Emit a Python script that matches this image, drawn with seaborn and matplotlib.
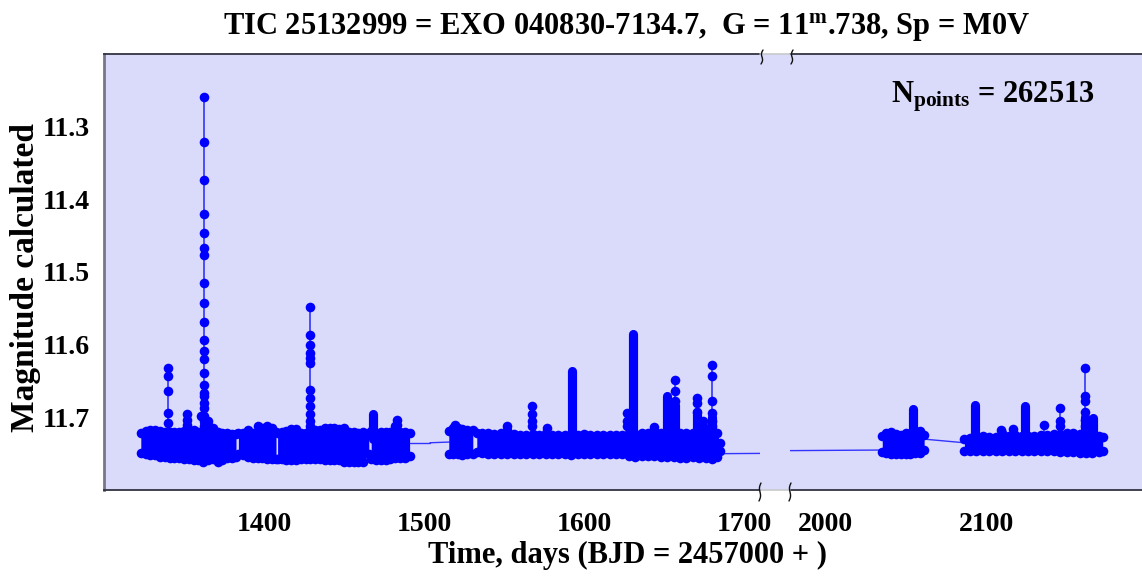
import numpy as np
import pandas as pd
import matplotlib
matplotlib.use("Agg")
import matplotlib.pyplot as plt
import seaborn as sns
from matplotlib.lines import Line2D
from matplotlib.patches import Rectangle

# ---------------- data ----------------
band_t = [1323, 1326, 1329, 1332, 1335, 1338, 1341, 1344, 1347, 1350, 1353, 1356, 1359, 1362, 1365,
          1368, 1371, 1374, 1377, 1380, 1382.5,
          1384, 1387, 1390, 1393, 1396, 1399, 1402, 1405, 1407.5,
          1408.5, 1411, 1414, 1417, 1420, 1423, 1426, 1429, 1432, 1435, 1438, 1441, 1444, 1447, 1450,
          1453, 1456, 1459, 1462, 1465.5,
          1467, 1470, 1473, 1476, 1479, 1482, 1485, 1488, 1491,
          1515.5, 1518, 1521, 1524, 1527, 1530.5,
          1533, 1536, 1540, 1544, 1548, 1552, 1556, 1560, 1564, 1568, 1572, 1576, 1580, 1584, 1588,
          1592, 1596, 1600, 1604, 1608, 1612, 1616, 1620, 1624, 1628, 1632, 1636, 1640, 1644, 1648,
          1652, 1656, 1660, 1664, 1668, 1672, 1676, 1680, 1683, 1685,
          2035.5, 2038, 2041, 2044, 2047, 2050, 2053, 2056, 2059, 2061.5,
          2086.5, 2090, 2094, 2098, 2102, 2106, 2110, 2114, 2118, 2122, 2126, 2130, 2134, 2138, 2142,
          2146, 2150, 2154, 2158, 2162, 2166, 2170, 2172.4]
band_hi = [11.722, 11.719, 11.718, 11.718, 11.719, 11.720, 11.720, 11.720, 11.720, 11.719, 11.718,
           11.718, 11.720, 11.720, 11.712, 11.715, 11.720, 11.721, 11.722, 11.723, 11.723,
           11.722, 11.721, 11.718, 11.721, 11.712, 11.715, 11.712, 11.715, 11.720,
           11.721, 11.720, 11.719, 11.716, 11.716, 11.722, 11.721, 11.717, 11.718, 11.718, 11.715,
           11.715, 11.715, 11.716, 11.715, 11.720, 11.720, 11.721, 11.720, 11.721,
           11.719, 11.721, 11.720, 11.720, 11.720, 11.712, 11.720, 11.720, 11.722,
           11.719, 11.715, 11.715, 11.716, 11.718, 11.718,
           11.721, 11.722, 11.722, 11.723, 11.722, 11.717, 11.723, 11.724, 11.724, 11.723, 11.724,
           11.721, 11.724, 11.725, 11.724, 11.724, 11.725, 11.723, 11.725, 11.725, 11.724, 11.725,
           11.725, 11.724, 11.721, 11.723, 11.721, 11.722, 11.717, 11.721, 11.721, 11.721, 11.722,
           11.721, 11.721, 11.721, 11.720, 11.719, 11.721, 11.735,
           11.726, 11.721, 11.720, 11.723, 11.725, 11.721, 11.721, 11.719, 11.719, 11.725,
           11.730, 11.728, 11.727, 11.726, 11.727, 11.727, 11.721, 11.726, 11.725, 11.726, 11.726,
           11.726, 11.725, 11.724, 11.723, 11.723, 11.721, 11.722, 11.723, 11.722, 11.723, 11.726, 11.727]
band_lo = [11.749, 11.750, 11.752, 11.752, 11.754, 11.755, 11.756, 11.756, 11.756, 11.758, 11.758,
           11.759, 11.759, 11.761, 11.759, 11.758, 11.761, 11.759, 11.756, 11.756, 11.755,
           11.751, 11.752, 11.754, 11.756, 11.756, 11.756, 11.757, 11.758, 11.758,
           11.757, 11.757, 11.759, 11.759, 11.759, 11.757, 11.757, 11.757, 11.757, 11.757, 11.759,
           11.759, 11.759, 11.759, 11.761, 11.761, 11.761, 11.761, 11.761, 11.751,
           11.758, 11.759, 11.759, 11.759, 11.758, 11.756, 11.756, 11.756, 11.753,
           11.750, 11.751, 11.751, 11.752, 11.751, 11.750,
           11.748, 11.749, 11.750, 11.750, 11.751, 11.751, 11.751, 11.750, 11.750, 11.751, 11.751,
           11.750, 11.750, 11.751, 11.751, 11.752, 11.751, 11.751, 11.751, 11.750, 11.750, 11.751,
           11.751, 11.751, 11.753, 11.754, 11.753, 11.753, 11.753, 11.754, 11.755, 11.755, 11.756,
           11.756, 11.755, 11.756, 11.756, 11.757, 11.755, 11.746,
           11.748, 11.749, 11.751, 11.751, 11.751, 11.750, 11.750, 11.749, 11.749, 11.745,
           11.746, 11.746, 11.746, 11.746, 11.746, 11.746, 11.746, 11.746, 11.746, 11.746, 11.746,
           11.747, 11.747, 11.747, 11.747, 11.748, 11.748, 11.748, 11.749, 11.749, 11.749, 11.748, 11.747]
band_seg = [1] * 21 + [2] * 9 + [3] * 20 + [4] * 9 + [5] * 6 + [6] * 40 + [7] * 10 + [8] * 23

flare_times = [1340.2, 1352.1, 1360.4, 1362.5, 1365.0, 1428.75, 1482.9, 1519.4, 1551.7, 1567.3,
               1576.7, 1627.1, 1644.0, 1656.9, 1670.4, 1674.6, 1679.8, 2109.0, 2116.8, 2136.1,
               2146.1, 2161.1]
flare_mags = [
    [11.632, 11.643, 11.664, 11.694, 11.708],
    [11.696, 11.703, 11.710],
    [11.698],
    [11.259, 11.321, 11.374, 11.420, 11.446, 11.467, 11.476, 11.515, 11.542, 11.569, 11.594,
     11.609, 11.620, 11.639, 11.655, 11.666, 11.671, 11.680, 11.687, 11.698, 11.705, 11.712],
    [11.705, 11.712],
    [11.548, 11.587, 11.600, 11.611, 11.618, 11.625, 11.662, 11.673, 11.685, 11.696, 11.705, 11.712],
    [11.703, 11.710],
    [11.710],
    [11.712],
    [11.684, 11.695, 11.705, 11.712],
    [11.714],
    [11.694, 11.705, 11.712],
    [11.713],
    [11.648, 11.664, 11.678],
    [11.673, 11.680, 11.693],
    [11.705, 11.712],
    [11.628, 11.643, 11.678, 11.694, 11.705, 11.712],
    [11.717],
    [11.716],
    [11.711],
    [11.687, 11.705, 11.712],
    [11.632, 11.670, 11.678, 11.693, 11.703, 11.712],
]

column_t = [1468.3, 1592.3, 1630.4, 1651.7, 1656.9, 1670.4, 1679.8, 2054.6, 2092.8, 2124.1, 2161.1, 2166.1]
column_top = [11.696, 11.636, 11.586, 11.671, 11.683, 11.693, 11.700, 11.688, 11.683, 11.684, 11.700, 11.701]

bridge_t0 = [1491.3, 1503.7, 1685.0, 2061.5]
bridge_m0 = [11.735, 11.735, 11.750, 11.730]
bridge_t1 = [1503.7, 1516.0, 2035.5, 2086.5]
bridge_m1 = [11.735, 11.734, 11.745, 11.735]

yticks_major = [11.3, 11.4, 11.5, 11.6, 11.7]
yticks_minor = [11.25, 11.35, 11.45, 11.55, 11.65, 11.75]
xticks_left = [1400, 1500, 1600, 1700]
xticks_left_minor = [1350, 1450, 1550, 1650]
xticks_right = [2000, 2100]
xticks_right_minor = [2050, 2150]

title = r"TIC 25132999 = EXO 040830-7134.7,  G = 11$^{\mathbf{m}}$.738, Sp = M0V"
npoints_text = r"N$_{\mathbf{points}}$ = 262513"
ylabel = "Magnitude calculated"
xlabel = "Time, days (BJD = 2457000 + )"

# ---------------- style ----------------
sns.set_theme(style="white")
plt.rcParams['font.family'] = ['Liberation Serif', 'DejaVu Serif']
plt.rcParams['font.weight'] = 'bold'
plt.rcParams['mathtext.fontset'] = 'custom'
plt.rcParams['mathtext.rm'] = 'Liberation Serif:bold'
plt.rcParams['mathtext.bf'] = 'Liberation Serif:bold'
plt.rcParams['mathtext.it'] = 'Liberation Serif:bold'
plt.rcParams['text.color'] = 'black'
plt.rcParams['xtick.labelcolor'] = 'black'
plt.rcParams['ytick.labelcolor'] = 'black'

BLUE = '#0000ff'
LINE = '#3434ff'
BG = '#dadafb'
W, H = 1142, 579

fig = plt.figure(figsize=(W / 100, H / 100), dpi=100)
fig.patch.set_facecolor('white')

def fx(px):
    return px / W

def fy(py):
    return 1 - py / H

AX_T, AX_B = 54, 490
axL = fig.add_axes([fx(104), fy(AX_B), fx(760 - 104), (AX_B - AX_T) / H])
axR = fig.add_axes([fx(790), fy(AX_B), fx(1142 - 790) + 0.002, (AX_B - AX_T) / H])

band = pd.DataFrame({"t": band_t, "hi": band_hi, "lo": band_lo, "seg": band_seg})
flare_df = pd.DataFrame({
    "t": [t for t, ms in zip(flare_times, flare_mags) for _ in ms],
    "mag": [m for ms in flare_mags for m in ms],
})
col_df = pd.DataFrame({"t": column_t, "top": column_top})

MS = 48
for ax in (axL, axR):
    ax.set_facecolor(BG)
    for t0, m0, t1, m1 in zip(bridge_t0, bridge_m0, bridge_t1, bridge_m1):
        ax.plot([t0, t1], [m0, m1], color=LINE, lw=1.0, zorder=2)
    for t, ms in zip(flare_times, flare_mags):
        ax.plot([t, t], [min(ms), 11.725], color=LINE, lw=1.2, zorder=2)
    ax.vlines(col_df["t"], col_df["top"], 11.73, color=BLUE, lw=6.6, capstyle='round', zorder=3)
    for _, g in band.groupby("seg"):
        ax.fill_between(g["t"], g["hi"], g["lo"], color=BLUE, lw=0, zorder=3)
    sns.scatterplot(data=band, x="t", y="hi", color=BLUE, s=MS, linewidth=0, ax=ax, zorder=4)
    sns.scatterplot(data=band, x="t", y="lo", color=BLUE, s=MS, linewidth=0, ax=ax, zorder=4)
    sns.scatterplot(data=flare_df, x="t", y="mag", color=BLUE, s=MS, linewidth=0, ax=ax, zorder=4)
    ax.set_ylim(11.8, 11.2)
    ax.set_xlabel("")
    ax.set_ylabel("")
    ax.tick_params(axis='both', which='both', direction='in', length=8, width=1.0,
                   color='#555566', labelsize=20, labelcolor='black', top=False, right=False)
    ax.tick_params(axis='x', which='both', pad=16)
    for s in ('top', 'bottom'):
        ax.spines[s].set_color('#333340')
        ax.spines[s].set_linewidth(1.3)
    ax.spines['right'].set_visible(False)

axL.set_xlim(1300, 1710)
axR.set_xlim(1978.2, 2198.2)
axL.set_xticks(xticks_left)
axL.set_xticks(xticks_left_minor, minor=True)
axR.set_xticks(xticks_right)
axR.set_xticks(xticks_right_minor, minor=True)
axL.tick_params(axis='x', which='minor', length=4)
axL.set_yticks(yticks_major)
axL.set_yticklabels([f"{v:.1f}" for v in yticks_major])
axL.set_yticks(yticks_minor, minor=True)
axL.tick_params(axis='y', which='both', pad=10)
axR.set_yticks([])
axR.set_yticks([], minor=True)
axR.spines['left'].set_visible(False)
axL.spines['left'].set_color('#777788')
axL.spines['left'].set_linewidth(2)
for ax in (axL, axR):
    for lab in ax.get_xticklabels() + ax.get_yticklabels():
        lab.set_fontweight('bold')

# gap between the two axis pieces
fig.patches.append(Rectangle((fx(760), fy(AX_B)), fx(30), (AX_B - AX_T) / H,
                             transform=fig.transFigure, facecolor=BG, edgecolor='none', zorder=0))
for yy in (AX_B, AX_T):
    fig.lines.append(Line2D([fx(760), fx(790)], [fy(yy), fy(yy)], transform=fig.transFigure,
                            color='#c8c8cc', lw=1.2))

# break marks
def brk(x0, y0, h=9):
    s = np.linspace(-1, 1, 20)
    xs = x0 + 2.0 * np.sin(np.pi * s) * 0.5 - 1.0 * s
    ys = y0 + h * s
    fig.lines.append(Line2D([fx(v) for v in xs], [fy(v) for v in ys], transform=fig.transFigure,
                            color='#111111', lw=1.0))

for xb in (760, 790):
    brk(xb, AX_B + 2)
    brk(xb + 2, AX_T + 3, h=7)

# texts
fig.text(fx(627), fy(27), title, ha='center', va='center', fontsize=22, fontweight='bold')
fig.text(fx(993), fy(97), npoints_text, ha='center', va='center', fontsize=22, fontweight='bold')
fig.text(fx(26), fy(277), ylabel, ha='center', va='center', rotation=90, fontsize=24, fontweight='bold')
fig.text(fx(628), fy(555), xlabel, ha='center', va='center', fontsize=22, fontweight='bold')

fig.savefig("out.png", dpi=100, facecolor='white')
